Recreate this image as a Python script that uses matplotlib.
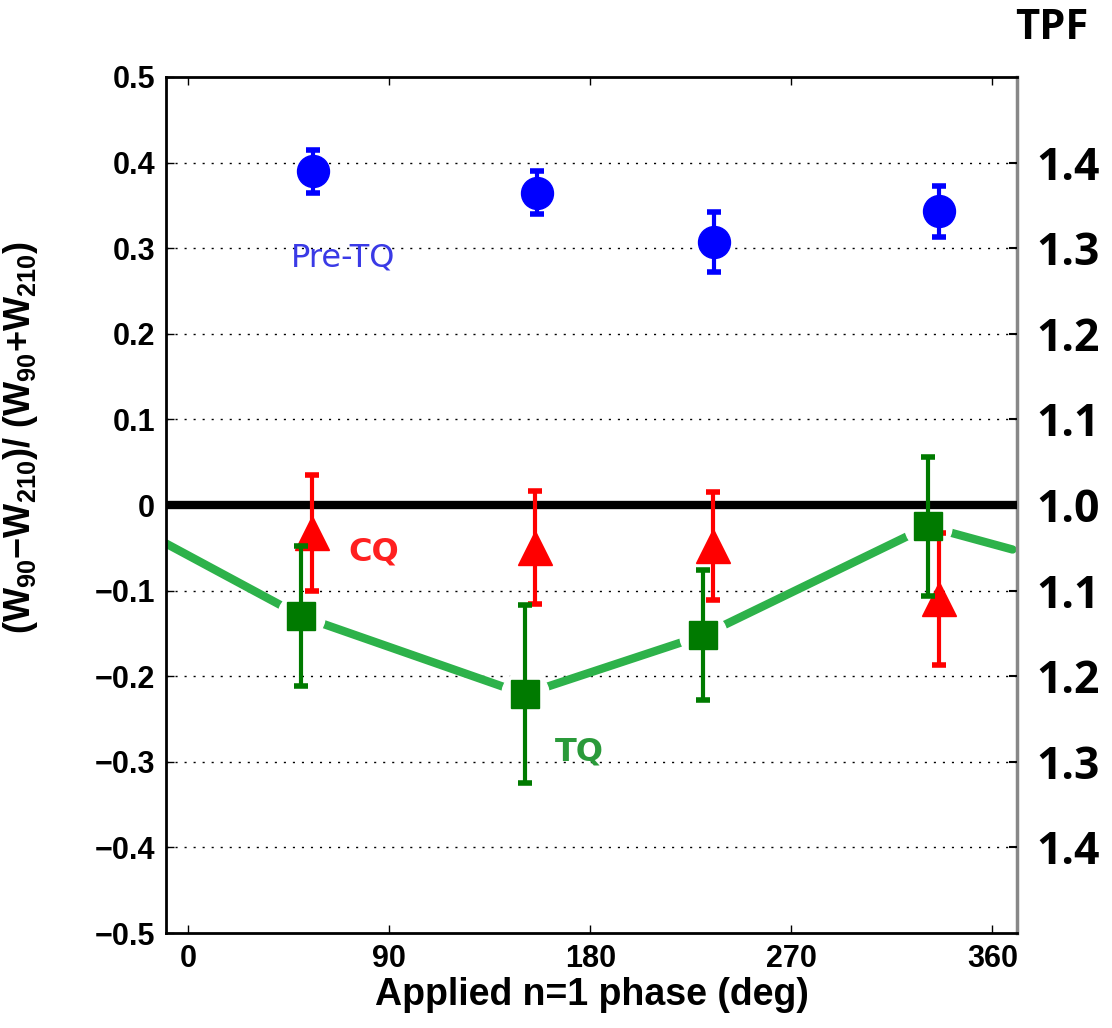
import numpy as np
import matplotlib
matplotlib.use("Agg")
import matplotlib.pyplot as plt

# ===========================
# DATOS
# ===========================
fase_pre = [56, 156, 235.5, 336]
val_pre = [0.390, 0.365, 0.307, 0.343]
err_pre = [0.025, 0.025, 0.035, 0.030]

fase_cq = [55.5, 155.4, 235, 336]
val_cq = [-0.033, -0.050, -0.048, -0.110]
err_cq = [0.068, 0.066, 0.063, 0.077]

fase_tq = [50.6, 150.5, 230.6, 331]
val_tq = [-0.130, -0.221, -0.152, -0.025]
err_tq = [0.082, 0.104, 0.076, 0.081]

# curva modelo (verde claro)
fase_modelo = [-10, 50.6, 150.5, 230.6, 331, 369]
val_modelo = [-0.045, -0.130, -0.221, -0.152, -0.025, -0.052]

tpf_pos = [0.4, 0.3, 0.2, 0.1, 0.0, -0.1, -0.2, -0.3, -0.4]
tpf_txt = ["1.4", "1.3", "1.2", "1.1", "1.0", "1.1", "1.2", "1.3", "1.4"]

xticks = [0, 90, 180, 270, 360]
yticks = [-0.5, -0.4, -0.3, -0.2, -0.1, 0, 0.1, 0.2, 0.3, 0.4, 0.5]
ylabels = ["\u22120.5", "\u22120.4", "\u22120.3", "\u22120.2", "\u22120.1", "0",
           "0.1", "0.2", "0.3", "0.4", "0.5"]

# ===========================
# FIGURA
# ===========================
plt.rcParams["font.family"] = "Liberation Sans"
plt.rcParams["mathtext.fontset"] = "custom"
plt.rcParams["mathtext.rm"] = "Liberation Sans:bold"
plt.rcParams["mathtext.bf"] = "Liberation Sans:bold"
plt.rcParams["mathtext.default"] = "bf"

fig = plt.figure(figsize=(11.12, 10.28), dpi=100)
ax = fig.add_axes([0.1493, 0.0924, 0.7653, 0.8327])

ax.set_xlim(-10, 371)
ax.set_ylim(-0.5, 0.5)

for y in tpf_pos:
    if y != 0:
        ax.axhline(y, color="black", lw=1.0, ls=(0, (1.5, 5)), zorder=1)

# linea verde con huecos en los marcadores
ax.plot(fase_modelo, val_modelo, color="#2db24a", lw=6, solid_capstyle="round", zorder=2)
ax.plot(fase_tq, val_tq, "o", ms=34, color="white", zorder=3)

ax.axhline(0, color="black", lw=6, zorder=4)

ax.errorbar(fase_pre, val_pre, yerr=err_pre, fmt="o", ms=23, color="#0000ff",
            elinewidth=3, capsize=5, capthick=4, zorder=5)
ax.errorbar(fase_cq, val_cq, yerr=err_cq, fmt="^", ms=24, color="#ff0000",
            elinewidth=3, capsize=5, capthick=4, zorder=5)
ax.errorbar(fase_tq, val_tq, yerr=err_tq, fmt="s", ms=20, color="#007a00",
            elinewidth=3, capsize=5, capthick=4, zorder=6)

ax.text(45.7, 0.289, "Pre-TQ", color="#3a3ae6", fontsize=23, family="DejaVu Sans",
        va="center", ha="left")
ax.text(71.6, -0.055, "CQ", color="#ff2020", fontsize=23, family="DejaVu Sans",
        fontweight="bold", va="center", ha="left")
ax.text(164, -0.289, "TQ", color="#2a9a3a", fontsize=23, family="DejaVu Sans",
        fontweight="bold", va="center", ha="left")

ax.set_xticks(xticks)
ax.set_yticks(yticks)
ax.set_yticklabels(ylabels)
ax.tick_params(axis="both", direction="in", length=6, width=1, labelsize=22,
               top=True, pad=8)
for lbl in ax.get_xticklabels() + ax.get_yticklabels():
    lbl.set_fontweight("bold")

ax.set_xlabel("Applied n=1 phase (deg)", fontsize=27, fontweight="bold", labelpad=2)
ax.set_ylabel(r"(W$_{90}$$-$W$_{210}$)/ (W$_{90}$+W$_{210}$)", fontsize=26,
              fontweight="bold")
ax.yaxis.set_label_coords(-0.148, 0.579)

for s in ["left", "bottom", "top"]:
    ax.spines[s].set_linewidth(2)
ax.spines["right"].set_color("#888888")
ax.spines["right"].set_linewidth(2.5)

ax2 = ax.twinx()
ax2.set_ylim(-0.5, 0.5)
ax2.set_yticks(tpf_pos)
ax2.set_yticklabels(tpf_txt, family="Open Sans", fontweight="bold", fontsize=32)
ax2.tick_params(axis="y", direction="in", length=6, width=1.5, pad=14)
for s in ax2.spines.values():
    s.set_visible(False)

fig.text(0.946, 0.972, "TPF", family="Open Sans", fontweight="bold", fontsize=30,
         ha="center", va="center")

fig.savefig("out.png", dpi=100)
